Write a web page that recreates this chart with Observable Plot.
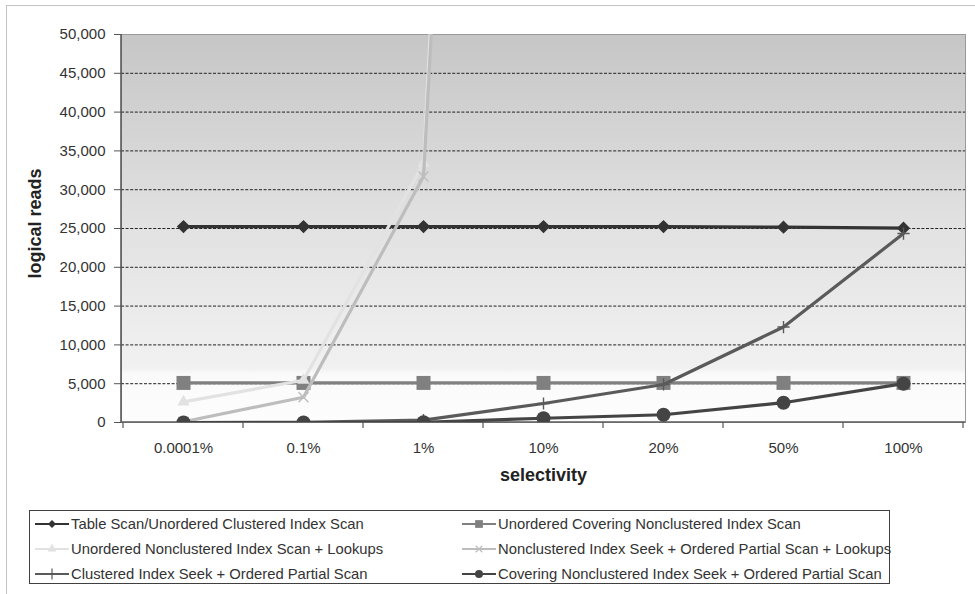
<!DOCTYPE html>
<html><head><meta charset="utf-8">
<script src="https://cdn.jsdelivr.net/npm/d3@7"></script>
<script src="https://cdn.jsdelivr.net/npm/@observablehq/plot@0.6"></script>
<style>
html,body{margin:0;padding:0;background:#fff;overflow:hidden;}
#wrap{position:relative;width:975px;height:594px;font-family:"Liberation Sans",Arial,sans-serif;overflow:hidden;}
#border{position:absolute;left:6px;top:5px;width:1200px;height:800px;border:1px solid #c4c4c4;}
#chart{position:absolute;left:0;top:0;}
#legend{position:absolute;left:29px;top:510px;width:859px;height:72px;border:1px solid #404040;background:#fff;}
.item{position:absolute;height:25px;display:flex;align-items:center;font-size:14.8px;color:#333;white-space:nowrap;}
.item svg{margin-right:2px;}
</style></head>
<body><div id="wrap"><div id="border"></div><div id="chart"></div><div id="legend"></div></div>
<script>
const categories = ["0.0001%","0.1%","1%","10%","20%","50%","100%"];
const seriesNames = [
  "Table Scan/Unordered Clustered Index Scan",
  "Unordered Covering Nonclustered Index Scan",
  "Unordered Nonclustered Index Scan + Lookups",
  "Nonclustered Index Seek + Ordered Partial Scan + Lookups",
  "Clustered Index Seek + Ordered Partial Scan",
  "Covering Nonclustered Index Seek + Ordered Partial Scan"
];
const tableScan      = [25250, 25250, 25250, 25250, 25250, 25170, 25040];
const coveringScan   = [5100, 5100, 5100, 5100, 5100, 5100, 5100];
const ncScanLookups  = [2650, 5450, 33400, 335000, 670000, 1675000, 3350000];
const ncSeekLookups  = [100, 3250, 31700, 316000, 632000, 1580000, 3160000];
const clusteredSeek  = [0, 30, 300, 2450, 4900, 12300, 24350];
const coveringSeek   = [0, 0, 30, 550, 1000, 2550, 5000];
const yTicks = [0, 5000, 10000, 15000, 20000, 25000, 30000, 35000, 40000, 45000, 50000];

const seriesValues = [tableScan, coveringScan, ncScanLookups, ncSeekLookups, clusteredSeek, coveringSeek];
const styles = [
  {color:"#333333", symbol:"diamond2", fill:"#333333", r:6, legendSym:d3.symbolDiamond2, lsize:40},
  {color:"#808080", symbol:"square", fill:"#808080", r:7.9, legendSym:d3.symbolSquare, lsize:60},
  {color:"#e2e2e2", symbol:"triangle", fill:"#e2e2e2", r:4.6, legendSym:d3.symbolTriangle, lsize:35},
  {color:"#bdbdbd", symbol:"times", stroke:"#bdbdbd", r:4.6, legendSym:d3.symbolTimes, lsize:30},
  {color:"#5a5a5a", symbol:"plus", stroke:"#5a5a5a", r:4.0, legendSym:d3.symbolPlus, lsize:40},
  {color:"#444444", symbol:"circle", fill:"#444444", r:7, legendSym:d3.symbolCircle, lsize:50}
];
const data = seriesNames.map((name, i) => categories.map((c, j) => ({series:name, cat:c, value:seriesValues[i][j]})));

const axisLines = (index, scales, values, dims) => {
  const g = d3.create("svg:g");
  const x = scales.x, y = scales.y;
  const left = dims.marginLeft, right = dims.width - dims.marginRight;
  const y0 = y(0), yTop = y(50000);
  const bw = x.bandwidth();
  const bounds = categories.map(c => x(c)).concat([x(categories[categories.length-1]) + bw]);
  g.selectAll("line.t").data(bounds).join("line")
    .attr("x1", d => d).attr("x2", d => d).attr("y1", y0).attr("y2", y0 + 6)
    .attr("stroke", "#555").attr("stroke-width", 1.2);
  g.append("line").attr("x1", left).attr("x2", left).attr("y1", yTop).attr("y2", y0)
    .attr("stroke", "#5a5a5a").attr("stroke-width", 1.6);
  g.append("line").attr("x1", left).attr("x2", right).attr("y1", y0).attr("y2", y0)
    .attr("stroke", "#5a5a5a").attr("stroke-width", 1.6);
  return g.node();
};

const marks = [
  Plot.frame({fill:"url(#bggrad)", stroke:"#9a9a9a", strokeWidth:1}),
  Plot.ruleY(yTicks.filter(d => d > 0 && d < 50000), {stroke:"#222", strokeWidth:1, strokeDasharray:"3,1.6"}),
  axisLines,
  Plot.axisY({ticks: yTicks, tickFormat: d3.format(","), tickSize: 7, tickPadding: 9, fontSize: 15, stroke:"#555", fill:"#333", label: null}),
  Plot.axisX({tickSize: 0, tickPadding: 20, fontSize: 15, fill:"#333", label: null}),
  Plot.text(["logical reads"], {frameAnchor:"left", textAnchor:"middle", dx:-86, dy:-5, rotate:-90, fontSize:18, fontWeight:"bold", fill:"#222"}),
  Plot.text(["selectivity"], {frameAnchor:"bottom", textAnchor:"middle", dy:58, fontSize:18, fontWeight:"bold", fill:"#222"})
];
data.forEach((d, i) => {
  const s = styles[i];
  marks.push(Plot.line(d, {x:"cat", y:"value", stroke:s.color, strokeWidth:3.2, clip:true}));
  marks.push(Plot.dot(d, {x:"cat", y:"value", symbol:s.symbol, r:s.r,
    fill: s.fill || "none", stroke: s.stroke || "none", strokeWidth: s.stroke ? 1.4 : 0, clip:true}));
});

const chart = Plot.plot({
  width: 975, height: 500,
  marginTop: 34, marginLeft: 121, marginRight: 10, marginBottom: 78,
  style: {fontFamily:"'Liberation Sans', Arial, sans-serif", fontSize:"15px", background:"transparent", color:"#333"},
  x: {type:"band", domain: categories, padding: 0, label: null},
  y: {domain:[0, 50000], label: null},
  marks
});
const defs = d3.create("svg:defs");
const grad = defs.append("linearGradient").attr("id","bggrad").attr("x1",0).attr("y1",0).attr("x2",0).attr("y2",1);
[[0,"#c6c6c6"],[0.5,"#e2e2e2"],[0.86,"#f1f1f1"],[0.875,"#fafafa"],[1,"#fdfdfd"]].forEach(([o,c]) =>
  grad.append("stop").attr("offset", o).attr("stop-color", c));
chart.insertBefore(defs.node(), chart.firstChild);
document.getElementById("chart").appendChild(chart);

const legend = d3.select("#legend");
seriesNames.forEach((name, i) => {
  const s = styles[i];
  const col = i % 2, row = Math.floor(i / 2);
  const item = legend.append("div").attr("class","item")
    .style("left", (col === 0 ? 5 : 432) + "px").style("top", (row * 25 + 0.5) + "px");
  const svg = item.append("svg").attr("width", 34).attr("height", 16);
  svg.append("line").attr("x1",0).attr("x2",34).attr("y1",8).attr("y2",8).attr("stroke", s.color).attr("stroke-width", 2.2);
  svg.append("path").attr("transform","translate(17,8)").attr("d", d3.symbol(s.legendSym, s.lsize)())
    .attr("fill", s.fill || "none").attr("stroke", s.stroke || "none").attr("stroke-width", 1.2);
  item.append("span").text(name);
});
</script></body></html>
